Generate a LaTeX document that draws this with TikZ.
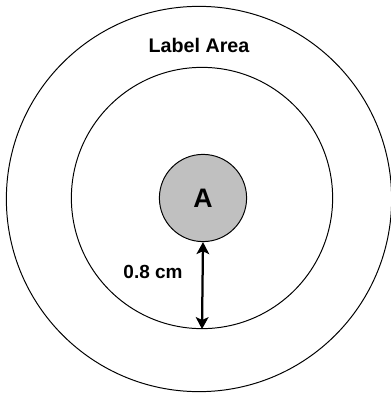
\documentclass[tikz,border=0pt]{standalone}
\usepackage{fontspec}
\setmainfont{Liberation Sans}
\usetikzlibrary{arrows.meta,positioning}
\definecolor{ink}{HTML}{000000}
\definecolor{disc}{HTML}{C0C0C0}

\begin{document}
\begin{tikzpicture}[x=0.025cm,y=-0.025cm,
          every node/.style={font=\bfseries},
          ring/.style={circle,draw=ink,line width=.7pt,inner sep=0pt},
          gap/.style={{Stealth[length=8.5pt,width=9pt,inset=2pt]}-{Stealth[length=8.5pt,width=9pt,inset=2pt]},
              line width=1.6pt,ink}]
        \useasboundingbox (0,0) rectangle (390,394);
        \node[ring,minimum size=9.63cm] (outer) at (199,199) {};
        \node[ring,minimum size=6.53cm] (inner) at (202,198) {};
        \node[ring,fill=disc,minimum size=2.18cm,
          font=\fontsize{19}{21}\selectfont\bfseries] (a) at (203,198) {A};

        \node[font=\fontsize{14}{16}\selectfont\bfseries] (area) at (199,45) {Label Area};
        \node[font=\fontsize{13.5}{15}\selectfont\bfseries] (dist) at (153,272) {0.8 cm};

        \draw[gap] (a.south)--(inner.south);
      \end{tikzpicture}
\end{document}
